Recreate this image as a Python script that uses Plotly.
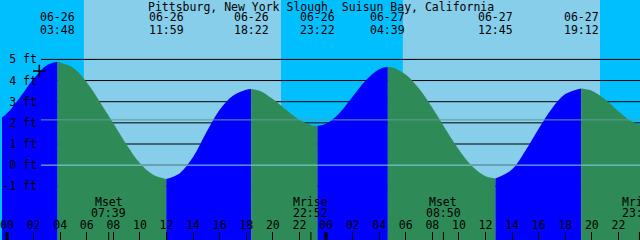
import plotly.graph_objects as go
import pandas as pd

# ---------------- data ----------------
station = "Pittsburg, New York Slough, Suisun Bay, California"

# hourly tide heights (ft), 2024-06-25 23:00 ... 2024-06-28 00:00
hour_times = list(pd.date_range("2024-06-25 23:00", "2024-06-28 00:00", freq="h"))
hour_ft = [2.00, 2.45, 3.22, 4.08, 4.72, 4.86, 4.60, 3.92, 2.98, 1.98,
           0.97, 0.10, -0.46, -0.66, -0.38, 0.38, 1.55, 2.62, 3.28, 3.57,
           3.52, 3.13, 2.62, 2.15, 1.88, 1.96, 2.46, 3.24, 4.02, 4.54,
           4.62, 4.29, 3.62, 2.71, 1.70, 0.73, -0.05, -0.52, -0.61, -0.20,
           0.68, 1.72, 2.68, 3.36, 3.62, 3.52, 3.11, 2.55, 2.06, 1.83]

# high / low tides
extreme_times = ["2024-06-25 22:36", "2024-06-26 03:48", "2024-06-26 11:59",
                 "2024-06-26 18:22", "2024-06-26 23:22", "2024-06-27 04:39",
                 "2024-06-27 12:45", "2024-06-27 19:12", "2024-06-28 00:12"]
extreme_ft = [1.96, 4.89, -0.66, 3.60, 1.86, 4.64, -0.63, 3.63, 1.82]

# sun
sunrise_times = ["2024-06-26 05:47", "2024-06-27 05:47"]
sunset_times = ["2024-06-26 20:37", "2024-06-27 20:37"]

# moon
moon_events = ["Mset", "Mrise", "Mset", "Mrise"]
moon_times = ["2024-06-26 07:39", "2024-06-26 22:52", "2024-06-27 08:50", "2024-06-27 23:35"]

# current time mark
now_time = "2024-06-26 02:26"
now_ft = 4.45

midnights = ["2024-06-26 00:00", "2024-06-27 00:00"]
ft_ticks = [-1, 0, 1, 2, 3, 4, 5]
ft_labels = ["%d ft" % v for v in ft_ticks]
msl_ft = 2.14
datum_ft = 0

x_range = ["2024-06-25 23:37:30", "2024-06-27 23:37:30"]
y_range = [-3.54, 7.81]

# ---------------- styles ----------------
FONT = "DejaVu Sans Mono"
FS = 11.5
DAY = "#87CEEB"
NIGHT = "#00BFFF"
RISE = "#0000FF"
FALL = "#2E8B57"

W, H = 640, 240
GRID_LEFT_PX = 39
LABEL_RIGHT_PX = 35

fig = go.Figure()

# ---------------- tide curve, split at extremes ----------------
ext_t = pd.to_datetime(extreme_times)
hrs = pd.to_datetime(hour_times)
for i in range(len(ext_t) - 1):
    t0, t1 = ext_t[i], ext_t[i + 1]
    xs = [t0]
    ys = [extreme_ft[i]]
    for t, v in zip(hrs, hour_ft):
        if t0 + pd.Timedelta(minutes=15) < t < t1 - pd.Timedelta(minutes=15):
            xs.append(t)
            ys.append(v)
    xs.append(t1)
    ys.append(extreme_ft[i + 1])
    color = RISE if extreme_ft[i + 1] > extreme_ft[i] else FALL
    # baseline at the bottom of the axis
    fig.add_trace(go.Scatter(x=[t0, t1], y=[y_range[0], y_range[0]], mode="lines",
                             line=dict(width=0, color=color), hoverinfo="skip",
                             showlegend=False))
    fig.add_trace(go.Scatter(x=xs, y=ys, mode="lines", fill="tonexty",
                             fillcolor=color,
                             line=dict(width=0, color=color, shape="spline", smoothing=1),
                             showlegend=False))

# current-time mark
fig.add_trace(go.Scatter(x=[now_time], y=[now_ft], mode="markers",
                         marker=dict(symbol="cross-thin", size=9,
                                     line=dict(width=1.5, color="black")),
                         showlegend=False))

# ---------------- shapes ----------------
shapes = []
for sr, ss in zip(sunrise_times, sunset_times):
    shapes.append(dict(type="rect", xref="x", yref="paper", x0=sr, x1=ss, y0=0, y1=1,
                       fillcolor=DAY, line=dict(width=0), layer="below"))
for v in ft_ticks:
    shapes.append(dict(type="line", xref="paper", yref="y", x0=GRID_LEFT_PX / W, x1=1,
                       y0=v, y1=v, line=dict(color="black", width=1), layer="below"))
shapes.append(dict(type="line", xref="paper", yref="y", x0=GRID_LEFT_PX / W, x1=1,
                   y0=datum_ft, y1=datum_ft, line=dict(color="#8AD2E4", width=1), layer="above"))
shapes.append(dict(type="line", xref="paper", yref="y", x0=GRID_LEFT_PX / W, x1=1,
                   y0=msl_ft, y1=msl_ft, line=dict(color="#5C9E9A", width=1), layer="above"))
for m in midnights:
    shapes.append(dict(type="line", xref="x", yref="paper", x0=m, x1=m, y0=0, y1=8 / H,
                       line=dict(color="black", width=3), layer="above"))
for m in moon_times:
    shapes.append(dict(type="line", xref="x", yref="paper", x0=m, x1=m, y0=0, y1=8 / H,
                       line=dict(color="black", width=1), layer="above"))

# ---------------- annotations ----------------
def py(px):
    return 1 - px / H

ann = []
ann.append(dict(text=station, x=0.5, xref="paper", y=py(6.5), yref="paper",
                yanchor="middle", showarrow=False))
for t in ext_t:
    ann.append(dict(text=t.strftime("%m-%d"), x=t, xref="x", y=py(17), yref="paper",
                    yanchor="middle", showarrow=False))
    ann.append(dict(text=t.strftime("%H:%M"), x=t, xref="x", y=py(29.5), yref="paper",
                    yanchor="middle", showarrow=False))
for name, t in zip(moon_events, pd.to_datetime(moon_times)):
    ann.append(dict(text=name, x=t, xref="x", y=py(201.5), yref="paper",
                    yanchor="middle", showarrow=False))
    ann.append(dict(text=t.strftime("%H:%M"), x=t, xref="x", y=py(213), yref="paper",
                    yanchor="middle", showarrow=False))
for a in ann:
    a["font"] = dict(family=FONT, size=FS, color="black")

fig.update_layout(
    width=W, height=H,
    margin=dict(l=0, r=0, t=0, b=0, pad=0),
    paper_bgcolor=NIGHT, plot_bgcolor=NIGHT,
    shapes=shapes, annotations=ann,
    font=dict(family=FONT, size=FS, color="black"),
    xaxis=dict(type="date", range=x_range, showgrid=False, zeroline=False, showline=False,
               ticks="inside", ticklen=8, tickwidth=1, tickcolor="black",
               tick0="2024-06-26 00:00", dtick=2 * 3600 * 1000, tickformat="%H",
               ticklabelposition="inside", ticklabeloverflow="allow",
               tickfont=dict(family=FONT, size=FS, color="black")),
    yaxis=dict(range=y_range, showgrid=False, zeroline=False, showline=False,
               anchor="free", position=LABEL_RIGHT_PX / W, side="left", ticks="",
               tickvals=ft_ticks, ticktext=ft_labels,
               tickfont=dict(family=FONT, size=FS, color="black")),
    showlegend=False,
)

fig.write_html("out.html")
